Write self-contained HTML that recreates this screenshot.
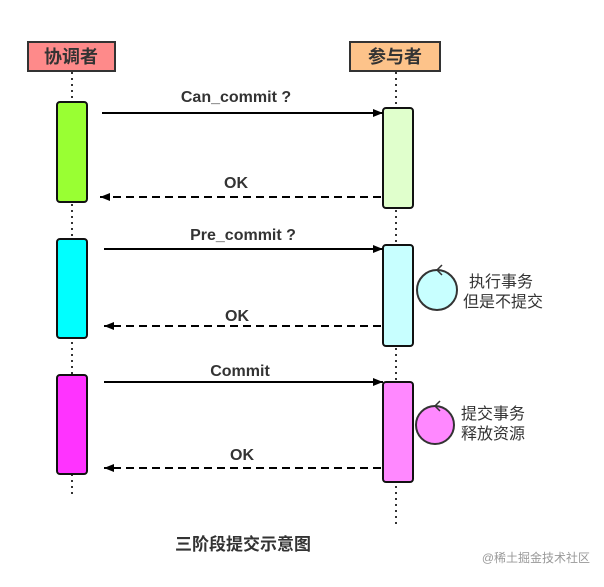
<!DOCTYPE html>
<html><head><meta charset="utf-8"><style>
body{margin:0;background:#fff;width:604px;height:582px;overflow:hidden}
svg text{font-family:"Liberation Sans","Noto Sans CJK SC",sans-serif;font-weight:bold;fill:#333}
</style></head><body>
<svg width="604" height="582" viewBox="0 0 604 582">
<defs><marker id="a" markerWidth="10" markerHeight="8" refX="10" refY="4" orient="auto" markerUnits="userSpaceOnUse"><path d="M0,0L10,4L0,8z" fill="#000"/></marker></defs>
<g stroke="#333" stroke-width="2" stroke-dasharray="2,4" fill="none">
<line x1="72" y1="72" x2="72" y2="498"/><line x1="396" y1="72" x2="396" y2="526"/>
</g>
<rect x="28" y="42" width="87" height="29" fill="#fe8a8a" stroke="#333" stroke-width="2"/>
<text x="71" y="63" text-anchor="middle" font-size="18">协调者</text>
<rect x="350" y="42" width="90" height="29" fill="#fdc38a" stroke="#333" stroke-width="2"/>
<text x="395" y="63" text-anchor="middle" font-size="18">参与者</text>
<g stroke="#111" stroke-width="2">
<rect x="57" y="102" width="30" height="100" rx="3" fill="#99ff33"/>
<rect x="383" y="108" width="30" height="100" rx="3" fill="#e0ffcc"/>
<rect x="57" y="239" width="30" height="99" rx="3" fill="#00ffff"/>
<rect x="383" y="245" width="30" height="101" rx="3" fill="#c8ffff"/>
<rect x="57" y="375" width="30" height="99" rx="3" fill="#ff33ff"/>
<rect x="383" y="382" width="30" height="100" rx="3" fill="#ff88ff"/>
</g>
<g stroke="#000" stroke-width="2" fill="none" marker-end="url(#a)">
<line x1="102" y1="113" x2="383" y2="113"/>
<line x1="104" y1="249" x2="383" y2="249"/>
<line x1="104" y1="382" x2="383" y2="382"/>
</g>
<g stroke="#000" stroke-width="2" fill="none" stroke-dasharray="8,5" marker-end="url(#a)">
<line x1="381" y1="197" x2="100" y2="197"/>
<line x1="381" y1="326" x2="104" y2="326"/>
<line x1="381" y1="468" x2="104" y2="468"/>
</g>
<g font-size="16" text-anchor="middle">
<text x="236" y="102">Can_commit ?</text>
<text x="236" y="188">OK</text>
<text x="243" y="240">Pre_commit ?</text>
<text x="237" y="321">OK</text>
<text x="240" y="376">Commit</text>
<text x="242" y="460">OK</text>
</g>
<circle cx="437" cy="290" r="20" fill="#c8ffff" stroke="#333" stroke-width="2"/>
<path d="M442,265L437,270L442,275" stroke="#333" stroke-width="1.5" fill="none"/>
<circle cx="435" cy="425" r="19" fill="#ff88ff" stroke="#333" stroke-width="2"/>
<path d="M440,401L435,406L440,411" stroke="#333" stroke-width="1.5" fill="none"/>
<g font-size="16">
<text x="469" y="287" style="font-weight:normal">执行事务</text>
<text x="463" y="307" style="font-weight:normal">但是不提交</text>
<text x="461" y="419" style="font-weight:normal">提交事务</text>
<text x="461" y="439" style="font-weight:normal">释放资源</text>
</g>
<text x="243" y="550" text-anchor="middle" font-size="17">三阶段提交示意图</text>
<text x="590" y="562" text-anchor="end" font-size="12" style="font-weight:normal;fill:#999">@稀土掘金技术社区</text>
</svg>
</body></html>
